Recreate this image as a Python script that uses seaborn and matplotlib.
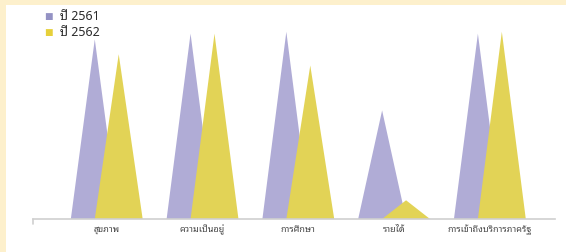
import matplotlib
matplotlib.use("Agg")
import pandas as pd
import matplotlib.pyplot as plt
import seaborn as sns
from matplotlib.patches import Polygon, Rectangle

# datos
categorias = ["สุขภาพ", "ความเป็นอยู่", "การศึกษา", "รายได้", "การเข้าถึงบริการภาครัฐ"]
anios = ["ปี 2561", "ปี 2562"]
valores_2561 = [96, 99, 100, 58, 99]
valores_2562 = [88, 99, 82, 10, 100]

colores = ["#b0acd6", "#e2d356"]
colores_leyenda = ["#9492c4", "#e6d03a"]

df = pd.DataFrame({
    "categoria": categorias * 2,
    "anio": [anios[0]] * 5 + [anios[1]] * 5,
    "valor": valores_2561 + valores_2562,
})

sns.set_style("white")
plt.rcParams["font.family"] = ["Noto Sans Thai Looped", "DejaVu Sans"]

fig = plt.figure(figsize=(5.66, 2.52), dpi=100, facecolor="#fdf0cc")
# fondo blanco interior (borde crema arriba e izquierda)
fig.patches.append(Rectangle((6 / 566, 0), 1, 1 - 5 / 252, transform=fig.transFigure,
                             facecolor="white", edgecolor="none", zorder=-1))
ax = fig.add_axes([33 / 566, 33 / 252, 522 / 566, 205 / 252])
ax.set_facecolor("none")
ax.set_zorder(1)

sns.barplot(data=df, x="categoria", y="valor", hue="anio", palette=colores,
            width=0.5, saturation=1, ax=ax, legend=False)

# convertir las barras en triangulos
barras = list(ax.patches)
for b in barras:
    x, w, h = b.get_x(), b.get_width(), b.get_height()
    c = x + w / 2
    tri = Polygon([(c - w, 0), (c, h), (c + w, 0)], closed=True,
                  facecolor=b.get_facecolor(), edgecolor="none", zorder=2)
    b.remove()
    ax.add_patch(tri)

ax.set_xlim(-0.77, 4.68)
ax.set_ylim(0, 109.5)
ax.set_xlabel("")
ax.set_ylabel("")
ax.set_yticks([])
ax.tick_params(axis="x", length=0, pad=4, labelsize=6.5, labelcolor="#444444")
for s in ["top", "right", "left"]:
    ax.spines[s].set_visible(False)
ax.spines["bottom"].set_color("#cfcfcf")
ax.spines["bottom"].set_linewidth(1.2)
# pequeña marca al inicio del eje
ax.plot([-0.77, -0.77], [0, -2.5], color="#cfcfcf", lw=1.2, clip_on=False)

# leyenda
for i, (a, col) in enumerate(zip(anios, colores_leyenda)):
    ly = 1 - (17 + 16 * i) / 252
    fig.text(48 / 566, ly, "■", color=col, fontsize=6.5, va="center", ha="center",
             family=["DejaVu Sans"])
    fig.text(60 / 566, ly, a, color="#2a2a2a", fontsize=9, va="center", ha="left")

fig.savefig("out.png", dpi=100, facecolor=fig.get_facecolor())
